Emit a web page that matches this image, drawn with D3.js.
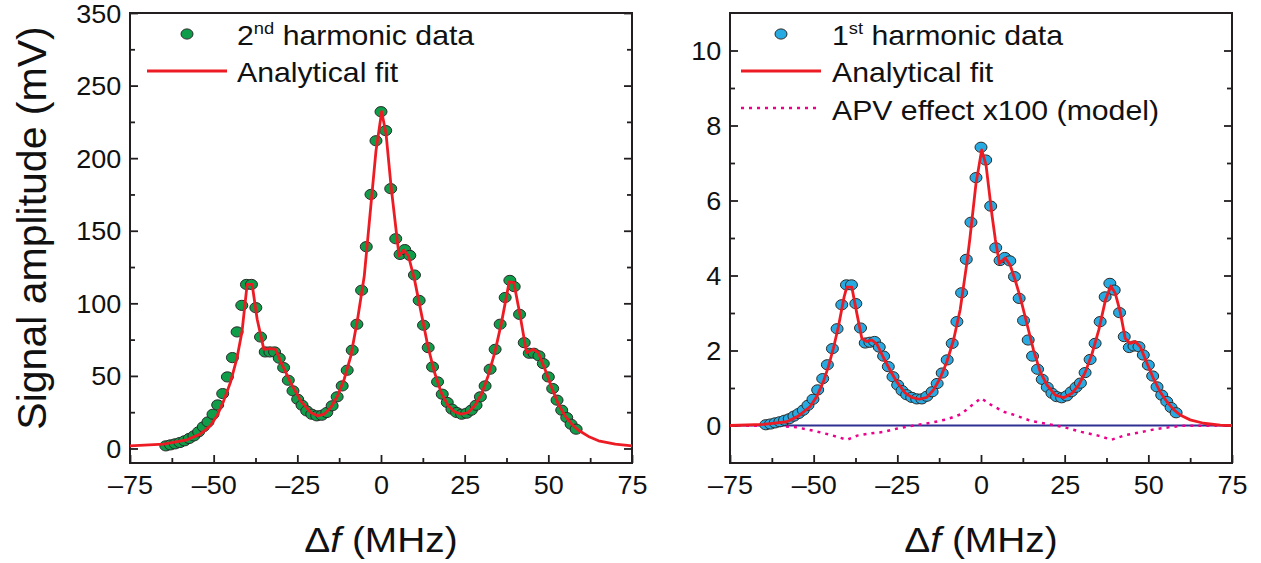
<!DOCTYPE html>
<html><head><meta charset="utf-8">
<script src="https://cdn.jsdelivr.net/npm/d3@7"></script>
<style>
body{margin:0;background:#fff}
svg{display:block}
text{font-family:"Liberation Sans",Arial,Helvetica,sans-serif;fill:#111}
</style>
</head><body>
<svg id="c" width="1261" height="563"></svg>
<script>
// shared frequency grid of the measured points (MHz)
const freq = [-64.3,-62.9,-61.5,-60.1,-58.7,-57.3,-55.9,-54.5,-53.1,-51.7,-50.2,-48.8,-47.3,-45.9,-44.4,-43.0,-41.6,-40.2,-38.7,-37.4,-36.0,-34.6,-33.2,-31.8,-30.4,-29.1,-27.7,-26.3,-24.9,-23.6,-22.2,-20.7,-19.2,-17.7,-16.2,-14.6,-13.1,-11.6,-10.1,-8.6,-7.2,-5.8,-4.4,-3.0,-1.5,0.0,1.4,2.9,4.4,5.7,7.1,8.6,10.0,11.4,12.7,14.1,15.4,16.9,18.3,19.8,21.2,22.6,24.1,25.6,27.0,28.4,29.7,31.1,32.6,34.1,35.6,37.1,38.5,39.8,41.4,42.8,44.3,45.7,47.2,48.5,50.0,51.3,52.6,54.0,55.5,56.8,58.3];
// 2nd harmonic data (mV)
const amp2nd = [1.8,2.5,3.2,4.1,5.3,6.9,8.7,11.5,14.9,18.3,23.6,30.0,37.8,49.3,62.6,80.3,98.6,113,113,97,76.8,66.5,66.5,66.5,62.2,55.7,47.0,39.7,33.9,29.8,25.9,23.6,22.5,22.9,24.8,29.4,35.6,43.1,53.9,67.7,85.6,109,139,175,212,232,219,179,144.5,133.7,137,133,119.5,102,84.9,69.5,56.2,45.9,37.4,31.7,27.1,24.8,23.6,24.3,26.4,29.8,35.6,43.1,54.6,68.3,85.6,104,115.8,111.5,92.4,72.9,65.6,65.6,63.8,58.5,49.3,41.3,33.3,26.4,21.3,16.7,13.3];
// 1st harmonic data
const amp1st = [0.02,0.04,0.07,0.10,0.14,0.18,0.25,0.32,0.41,0.54,0.70,0.95,1.25,1.62,2.05,2.58,3.22,3.75,3.75,3.25,2.60,2.20,2.22,2.24,2.09,1.85,1.57,1.30,1.08,0.93,0.82,0.75,0.71,0.71,0.78,0.90,1.12,1.40,1.75,2.19,2.77,3.54,4.43,5.42,6.61,7.42,7.08,5.85,4.74,4.40,4.48,4.39,3.97,3.39,2.80,2.28,1.85,1.50,1.23,1.02,0.86,0.77,0.74,0.79,0.90,1.02,1.13,1.41,1.76,2.19,2.77,3.43,3.79,3.61,3.01,2.37,2.08,2.12,2.10,1.88,1.61,1.32,1.03,0.81,0.64,0.48,0.34];
// analytical fit, left panel
const fit2ndF = [-75,-65,-58,-54,-51,-49,-47,-45,-43,-41.5,-40,-38.5,-37,-35,-33,-31.5,-30,-27,-24,-21,-19,-17,-15,-13,-11,-9,-7,-5,-3,-1.5,0.2,1.5,3,5.4,6.8,8.2,10,12,14,16,18,20,22,24,26,28,30,32,34,36,38.3,39.7,41.5,43.5,45.5,47,49,51,53,55,57,59,62,65,70,75];
const fit2ndV = [1.8,3.0,6,9.9,15.6,22.5,32.8,45.4,62.6,81,113,113,89,68.3,68.8,68.3,60,45.4,32.8,24.8,22.5,23.6,28.2,36.2,47.7,63.8,89,118.8,168,205,232,217,180.7,132.6,136.7,132.6,116.5,93.6,70.6,52.3,38.5,29.8,25.2,23.6,24.8,29.4,37.4,50,66,86.7,114.7,114.2,92.4,66,68.3,66,54.6,42,30.5,22.5,16.7,12.6,8.3,5.3,3.0,1.8];
// analytical fit, right panel
const fit1stF = [-75,-65,-58,-54.6,-51.1,-49.1,-47.1,-45.6,-44.1,-42.6,-40.9,-40.1,-38.6,-37.1,-35.6,-34.1,-32.6,-31.1,-29.2,-27.2,-25.2,-22.7,-20.7,-18.4,-16.2,-14.2,-12.2,-10.2,-8.2,-6.2,-4.2,-3.3,-1.5,0.2,1.5,3.3,4.3,5.5,7.2,8.7,10.2,11.7,13.7,15.7,17.7,19.7,22.2,24.7,27.2,29.2,31.2,33.2,35.2,37.2,38.8,40.1,41.6,43.1,44.6,46.1,47.6,49.6,51.5,53.5,55.5,57.5,59.5,62.5,66.5,71.5,75];
const fit1stV = [0,0.03,0.1,0.25,0.5,0.77,1.17,1.57,2.06,2.64,3.43,3.69,3.69,2.99,2.32,2.24,2.28,2.17,1.82,1.48,1.17,0.87,0.75,0.70,0.75,0.95,1.26,1.70,2.28,3.1,4.35,5.0,6.45,7.35,6.95,5.6,4.95,4.32,4.47,4.28,3.88,3.43,2.72,2.01,1.43,1.08,0.81,0.74,0.86,1.08,1.43,1.92,2.55,3.35,3.72,3.53,3.03,2.32,2.19,2.24,2.10,1.66,1.26,0.90,0.64,0.43,0.28,0.15,0.06,0.01,0];
// APV effect x100 (model)
const apvF = [-75,-60,-55,-50,-45,-40,-37,-33,-29,-25,-20,-15,-10,-6,-3,0,3,7,10,15,20,25,30,35,39,43,47,52,56,60,75];
const apvV = [0,-0.01,-0.05,-0.14,-0.25,-0.38,-0.27,-0.21,-0.17,-0.08,0.0,0.07,0.17,0.30,0.52,0.73,0.55,0.36,0.28,0.12,0.04,-0.05,-0.17,-0.27,-0.38,-0.26,-0.19,-0.10,-0.05,-0.01,0];

const xTicks = [-75,-50,-25,0,25,50,75];
const xTickLabels = ["\u201375","\u201350","\u201325","0","25","50","75"];
const xMinor = [-62.5,-37.5,-12.5,12.5,37.5,62.5];
const yTicksL = [0,50,100,150,200,250,300];
const yTickLabelsL = ["0","50","100","150","200","250","350"];
const yMinorL = [25,75,125,175,225,275];
const yTicksR = [0,2,4,6,8,10];
const yTickLabelsR = ["0","2","4","6","8","10"];
const yMinorR = [1,3,5,7,9];

const SX = 1.08; // horizontal stretch of the original artwork
const svg = d3.select("#c");
const INK = "#231f20";
const RED = "#ed1c24";
const RX = 6, RY = 5.1;

function zip(a, b){ const n = Math.min(a.length, b.length); return d3.range(n).map(i => [a[i], b[i]]); }

function panel(opt){
  const x = d3.scaleLinear([-75,75],[opt.x0, opt.x1]);
  const y = d3.scaleLinear(opt.ydom,[463,13]);
  const g = svg.append("g");

  g.append("g").attr("transform",`translate(0,463)`)
    .call(d3.axisBottom(x).tickValues(xTicks).tickSizeInner(-8).tickSizeOuter(0).tickPadding(13)
      .tickFormat((d,i)=>xTickLabels[i]));
  g.append("g").attr("transform",`translate(0,463)`)
    .call(d3.axisBottom(x).tickValues(xMinor).tickSizeInner(-5).tickSizeOuter(0).tickFormat(""));
  const ly = g.append("g").attr("transform",`translate(${opt.x0},0)`)
    .call(d3.axisLeft(y).tickValues(opt.yTicks).tickSizeInner(-8).tickSizeOuter(0).tickPadding(8)
      .tickFormat((d,i)=>opt.yLabels[i]));
  g.append("g").attr("transform",`translate(${opt.x0},0)`)
    .call(d3.axisLeft(y).tickValues(opt.yMinor).tickSizeInner(-5).tickSizeOuter(0).tickFormat(""));
  g.append("g").attr("transform",`translate(${opt.x1},0)`)
    .call(d3.axisRight(y).tickValues(opt.yTicks).tickSizeInner(-8).tickSizeOuter(0).tickFormat(""));
  g.append("g").attr("transform",`translate(${opt.x1},0)`)
    .call(d3.axisRight(y).tickValues(opt.yMinor).tickSizeInner(-5).tickSizeOuter(0).tickFormat(""));
  g.selectAll(".domain").remove();
  g.selectAll(".tick line").attr("stroke",INK).attr("stroke-width",1.8);
  g.selectAll(".tick text").attr("font-size",25).attr("fill","#111")
    .attr("font-family",'"Liberation Sans",Arial,sans-serif')
    .attr("transform",`scale(${SX},1)`);
  ly.selectAll(".tick text").attr("dy","0.36em");

  g.append("rect").attr("x",opt.x0).attr("y",13).attr("width",opt.x1-opt.x0).attr("height",450)
    .attr("fill","none").attr("stroke",INK).attr("stroke-width",2);

  const line = d3.line().x(d=>x(d[0])).y(d=>y(d[1]));
  if (opt.zero){
    g.append("line").attr("x1",x(-75)).attr("x2",x(75)).attr("y1",y(0)).attr("y2",y(0))
      .attr("stroke","#2e3192").attr("stroke-width",2.2);
  }
  if (opt.apv){
    g.append("path").datum(zip(apvF, apvV)).attr("d",line).attr("fill","none")
      .attr("stroke","#ec008c").attr("stroke-width",2.5).attr("stroke-dasharray","3,5");
  }
  g.append("g").selectAll("ellipse").data(zip(freq, opt.data)).join("ellipse")
    .attr("cx",d=>x(d[0])).attr("cy",d=>y(d[1])).attr("rx",RX).attr("ry",RY)
    .attr("fill",opt.color).attr("stroke","#2a2a2a").attr("stroke-width",1);
  g.append("path").datum(zip(opt.fitF, opt.fitV)).attr("d",line).attr("fill","none")
    .attr("stroke",RED).attr("stroke-width",2.8).attr("stroke-linejoin","round");

  const cx = (opt.x0+opt.x1)/2;
  const xt = g.append("text").attr("transform",`translate(${cx},552) scale(${SX},1)`)
    .attr("text-anchor","middle").attr("font-size",36);
  xt.append("tspan").text("\u0394");
  xt.append("tspan").attr("font-style","italic").text("f");
  xt.append("tspan").text(" (MHz)");

  const L = opt.leg;
  g.append("ellipse").attr("cx",L.mx).attr("cy",34).attr("rx",RX).attr("ry",RY)
    .attr("fill",opt.color).attr("stroke","#2a2a2a").attr("stroke-width",1);
  const t1 = g.append("text").attr("transform",`translate(${L.tx},45) scale(${SX},1)`).attr("font-size",28);
  t1.append("tspan").text(opt.num);
  t1.append("tspan").attr("font-size",17).attr("dy",-11).text(opt.sup);
  t1.append("tspan").attr("dy",11).text(" harmonic data");
  g.append("line").attr("x1",L.l0).attr("x2",L.l1).attr("y1",71).attr("y2",71)
    .attr("stroke",RED).attr("stroke-width",2.8);
  g.append("text").attr("transform",`translate(${L.tx},82) scale(${SX},1)`).attr("font-size",28).text("Analytical fit");
  if (opt.apv){
    g.append("line").attr("x1",L.l0).attr("x2",L.l1).attr("y1",108).attr("y2",108)
      .attr("stroke","#ec008c").attr("stroke-width",2.5).attr("stroke-dasharray","3,5");
    g.append("text").attr("transform",`translate(${L.tx},120) scale(${SX},1)`).attr("font-size",28).text("APV effect x100 (model)");
  }
}

panel({x0:130,x1:632,ydom:[-10,300],yTicks:yTicksL,yLabels:yTickLabelsL,yMinor:yMinorL,
  data:amp2nd,color:"#0f9d4a",fitF:fit2ndF,fitV:fit2ndV,zero:false,apv:false,
  num:"2",sup:"nd",leg:{mx:187,l0:147,l1:227,tx:237}});
panel({x0:730,x1:1232,ydom:[-1,11],yTicks:yTicksR,yLabels:yTickLabelsR,yMinor:yMinorR,
  data:amp1st,color:"#27aae1",fitF:fit1stF,fitV:fit1stV,zero:true,apv:true,
  num:"1",sup:"st",leg:{mx:781,l0:741,l1:821,tx:832}});

svg.append("text").attr("transform","translate(46,228) rotate(-90)")
  .attr("text-anchor","middle").attr("font-size",41).text("Signal amplitude (mV)");
</script>
</body></html>
